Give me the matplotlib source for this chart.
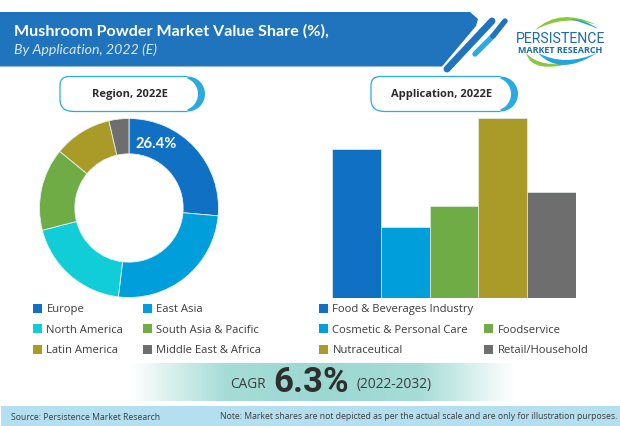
import numpy as np
import matplotlib
matplotlib.use("Agg")
import matplotlib.pyplot as plt
from matplotlib.colors import LinearSegmentedColormap
from matplotlib.patches import PathPatch, Polygon, Rectangle, Wedge
from matplotlib.path import Path

# data
regions = ["Europe", "East Asia", "North America", "South Asia & Pacific", "Latin America", "Middle East & Africa"]
region_share = [26.4, 25.5, 19.1, 14.9, 10.5, 3.6]
region_colors = ["#1070C4", "#009FDB", "#10CDD8", "#6FAC46", "#AA9A28", "#6E6E6E"]

applications = ["Food & Beverages Industry", "Cosmetic & Personal Care", "Foodservice", "Nutraceutical", "Retail/Household"]
application_share = [24.9, 11.9, 15.4, 30.1, 17.7]
application_colors = ["#1070C4", "#009FDB", "#6FAC46", "#AA9A28", "#6E6E6E"]

W, H = 620, 427
BLUE = "#1F74BD"
LIGHT = "#29ABE2"
TXT = "#3C3C3C"

plt.rcParams["font.family"] = "Open Sans"


def px_axes(fig, x0, y0, x1, y1):
    # axes from pixel box, y measured from the top
    return fig.add_axes([x0 / W, 1 - y1 / H, (x1 - x0) / W, (y1 - y0) / H])


def pill(ax, x0, x1, y0, y1, label):
    r = (y1 - y0) / 2
    # thick crescent on the right end
    ax.add_patch(Wedge((x1 - r, y0 + r), r, -90, 90, color=LIGHT, lw=0))
    ax.add_patch(Wedge((x1 - r - 6, y0 + r), r - 1, -90, 90, color="white", lw=0))
    verts = [(x1 - r, y0), (x0 + 9, y0), (x0, y0), (x0, y0 + 9), (x0, y1 - 12), (x0, y1), (x0 + 14, y1), (x1 - r, y1)]
    codes = [Path.MOVETO, Path.LINETO, Path.CURVE3, Path.CURVE3, Path.LINETO, Path.CURVE3, Path.CURVE3, Path.LINETO]
    ax.add_patch(PathPatch(Path(verts, codes), fc="none", ec=LIGHT, lw=0.9))
    ax.text((x0 + x1) / 2 - 3, (y0 + y1) / 2, label, ha="center", va="center",
            fontsize=8.0, fontweight="bold", color="#2B2B2B")


def swoosh(ax, a, top, b, bottom, color):
    # crescent between two quadratic curves, used for the logo
    verts = [a, top, b, bottom, a, a]
    codes = [Path.MOVETO, Path.CURVE3, Path.CURVE3, Path.CURVE3, Path.CURVE3, Path.CLOSEPOLY]
    ax.add_patch(PathPatch(Path(verts, codes), fc=color, ec="none"))


def legend_row(ax, x_box, y, color, label):
    ax.add_patch(Rectangle((x_box, y - 4.5), 9, 9, color=color, lw=0))
    ax.text(x_box + 13.5, y + 1, label, ha="left", va="center", fontsize=8.1, color=TXT)


fig = plt.figure(figsize=(W / 100, H / 100), dpi=100, facecolor="white")

# canvas for everything that is not data
bg = fig.add_axes([0, 0, 1, 1])
bg.set_xlim(0, W)
bg.set_ylim(H, 0)
bg.axis("off")

# header banner
banner = [(0, 13), (470, 13), (478, 20), (476, 27), (442, 67.5), (0, 67.5)]
bg.add_patch(Polygon(banner, closed=True, fc=BLUE, ec="none", joinstyle="round"))
bg.plot([492, 447], [22, 70], color=BLUE, lw=5.0, solid_capstyle="round")
bg.plot([493, 475], [37, 55], color=LIGHT, lw=3.9, solid_capstyle="round")
bg.plot([505, 493], [22, 37], color=BLUE, lw=3.9, solid_capstyle="round")
bg.text(14, 31.5, "Mushroom Powder Market Value Share (%),", ha="left", va="center",
        fontsize=11.6, fontweight="bold", color="white", family="Lato")
bg.text(14, 49.5, "By Application, 2022 (E)", ha="left", va="center",
        fontsize=10.2, style="italic", color="#DCE9F5", family="Lato")

# logo
swoosh(bg, (535, 31), (560, 8), (597, 26), (565, 15), "#8CC63F")
swoosh(bg, (570, 20), (585, 20), (598, 30), (585, 24), "#22A5DC")
swoosh(bg, (526, 54), (532, 76), (576, 63), (540, 70), "#8CC63F")
swoosh(bg, (538, 54), (560, 78), (597, 54), (565, 68), "#22A5DC")
bg.text(560.5, 39, "PERSISTENCE", ha="center", va="center", fontsize=10.2, color="#1B6CA8", family="Roboto")
bg.text(560.5, 50.5, "MARKET RESEARCH", ha="center", va="center", fontsize=6.5, fontweight="bold", color="#1B6CA8")

# section pills
pill(bg, 60, 205, 77.5, 112.5, "Region, 2022E")
pill(bg, 371, 518, 77.5, 112.5, "Application, 2022E")

# donut
ax_d = px_axes(fig, 39.5, 119.5, 218.5, 298.5)
ax_d.pie(region_share, colors=region_colors, startangle=90, counterclock=False, radius=1.0,
         wedgeprops=dict(width=0.395, edgecolor="#E6F2F2", linewidth=0.6))
ax_d.set_xlim(-1, 1)
ax_d.set_ylim(-1, 1)
ax_d.text(0.30, 0.726, f"{region_share[0]}%", ha="center", va="center", fontsize=10.6,
          fontweight="bold", color="white", family="Lato")

# bars
ax_b = px_axes(fig, 332, 119, 576, 299)
ax_b.bar(range(len(application_share)), application_share, width=1.0, color=application_colors,
         edgecolor="#E3EEE6", linewidth=0.5)
ax_b.set_xlim(-0.5, len(application_share) - 0.5)
ax_b.set_ylim(0, max(application_share))
ax_b.axis("off")

# legends
rows = [309, 329.5, 350]
for i, (name, col) in enumerate(zip(regions, region_colors)):
    legend_row(bg, [33, 142.5][i % 2], rows[i // 2], col, name)

legend_row(bg, 319, rows[0], application_colors[0], applications[0])
legend_row(bg, 319, rows[1], application_colors[1], applications[1])
legend_row(bg, 484, rows[1], application_colors[2], applications[2])
legend_row(bg, 319, rows[2], application_colors[3], applications[3])
legend_row(bg, 484, rows[2], application_colors[4], applications[4])

# CAGR band, fades out at both ends
fade = LinearSegmentedColormap.from_list("fade", ["#FFFFFF", "#A5DCD6", "#9CD8D2", "#A5DCD6", "#FFFFFF"])
bg.imshow(np.linspace(0, 1, 256).reshape(1, -1), extent=(130, 515, 402, 364), cmap=fade, aspect="auto", zorder=0)
bg.set_xlim(0, W)
bg.set_ylim(H, 0)
bg.text(248, 385, "CAGR", ha="center", va="center", fontsize=9.8, color=TXT)
bg.text(311, 383, "6.3%", ha="center", va="center", fontsize=25, fontweight="bold", color="#2E2E2E", family="Roboto")
bg.text(394, 385, "(2022-2032)", ha="center", va="center", fontsize=9.9, color=TXT)

# footer
bg.add_patch(Rectangle((1, 407), W - 1, 20, color="#B4DFF1", lw=0))
bg.text(11, 417.5, "Source: Persistence Market Research", ha="left", va="center", fontsize=6.2, color=TXT)
bg.text(617, 417, "Note: Market shares are not depicted as per the actual scale and are only for illustration purposes.",
        ha="right", va="center", fontsize=6.2, color=TXT)

fig.savefig("out.png", dpi=100)
